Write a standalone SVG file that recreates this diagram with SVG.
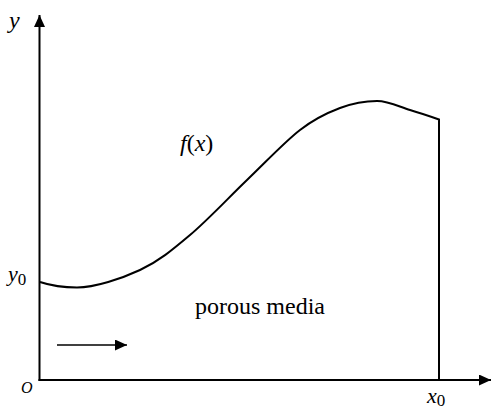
<svg xmlns="http://www.w3.org/2000/svg" width="491" height="410" viewBox="0 0 491 410">
<style>
.ln{stroke:#000;stroke-width:2;fill:none}
.thin{stroke:#000;stroke-width:1.4;fill:none}
.i{font-style:italic}
text{font-family:"Liberation Serif","Times New Roman",serif;fill:#000}
</style>
<defs>
<marker id="ah" markerWidth="12" markerHeight="11" refX="12" refY="5.5" orient="auto" markerUnits="userSpaceOnUse">
<path d="M0,0 L12,5.5 L0,11 Z" fill="#000"/>
</marker>
</defs>
<g id="connectors">
<path class="ln" d="M39.5,381 L39.5,15" marker-end="url(#ah)"/>
<path class="ln" d="M38.5,380 L491,380" marker-end="url(#ah)"/>
<path class="thin" d="M57,345 L127,345" marker-end="url(#ah)"/>
</g>
<g id="curve">
<path class="ln" d="M40,282 C46,284 60,287.5 77,287.5 C95,287.5 121.2,278.75 140,270 C158.8,261.25 172.2,250 190,235 C207.8,220 228.7,197.5 247,180 C265.3,162.5 284.5,142 300,130 C315.5,118 327.2,112.8 340,108 C352.8,103.2 365,101 377,101 C389,101 399.8,107 410,110 C420.2,113 433.3,117.5 439,119.5 L439,380"/>
</g>
<g id="labels">
<text class="i" x="9" y="28" font-size="24">y</text>
<text class="i" x="8" y="281" font-size="22">y<tspan font-style="normal" font-size="17" dy="4">0</tspan></text>
<text class="i" x="21" y="393" font-size="16">O</text>
<text class="i" x="427" y="403" font-size="22">x<tspan font-style="normal" font-size="17" dy="3">0</tspan></text>
<text class="i" x="477" y="420" font-size="22">x</text>
<text x="180" y="151" font-size="24"><tspan class="i">f</tspan>(<tspan class="i">x</tspan>)</text>
<text x="195" y="314" font-size="24">porous media</text>
</g>
</svg>
